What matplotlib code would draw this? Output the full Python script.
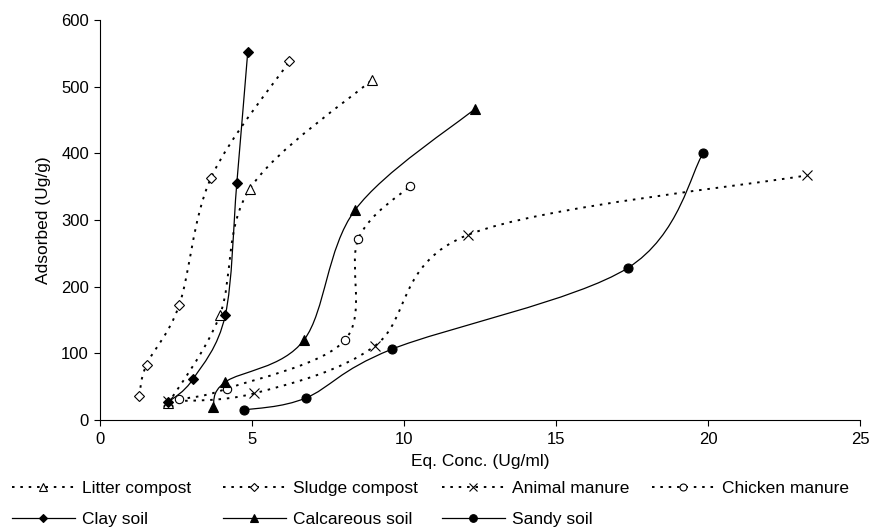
import matplotlib.pyplot as plt
from matplotlib.path import Path
from matplotlib.patches import PathPatch
from matplotlib.lines import Line2D

plt.rcParams['font.family'] = ['Liberation Sans', 'DejaVu Sans']

# data (Eq. Conc. in ug/ml, Adsorbed in ug/g)
litter_x = [2.25, 3.94, 4.93, 8.94]
litter_y = [25, 157, 347, 510]
sludge_x = [1.29, 1.53, 2.61, 3.65, 6.23]
sludge_y = [36, 83, 173, 363, 538]
animal_x = [2.25, 5.08, 9.04, 12.12, 23.25]
animal_y = [28, 40, 111, 278, 367]
chicken_x = [2.61, 4.17, 8.06, 8.50, 10.20]
chicken_y = [31, 47, 120, 272, 351]
clay_x = [2.25, 3.07, 4.12, 4.50, 4.86]
clay_y = [27, 62, 157, 355, 552]
calc_x = [3.72, 4.12, 6.71, 8.39, 12.34]
calc_y = [20, 57, 120, 315, 467]
sandy_x = [4.75, 6.77, 9.59, 17.36, 19.84]
sandy_y = [15, 33, 106, 228, 400]

series = [
    ('Litter compost', litter_x, litter_y, 'dot', '^', 'white', 7),
    ('Sludge compost', sludge_x, sludge_y, 'dot', 'D', 'white', 5.5),
    ('Animal manure', animal_x, animal_y, 'dot', 'x', 'black', 7),
    ('Chicken manure', chicken_x, chicken_y, 'dot', 'o', 'white', 6),
    ('Clay soil', clay_x, clay_y, 'solid', 'D', 'black', 5.5),
    ('Calcareous soil', calc_x, calc_y, 'solid', '^', 'black', 7),
    ('Sandy soil', sandy_x, sandy_y, 'solid', 'o', 'black', 6.5),
]

dotted = (0, (1.3, 3))


def smooth_path(xs, ys):
    # excel-style smoothed line: catmull-rom segments as cubic beziers
    pts = list(zip(xs, ys))
    verts = [pts[0]]
    codes = [Path.MOVETO]
    n = len(pts)
    for i in range(n - 1):
        p0 = pts[i - 1] if i > 0 else pts[i]
        p1 = pts[i]
        p2 = pts[i + 1]
        p3 = pts[i + 2] if i + 2 < n else pts[i + 1]
        c1 = (p1[0] + (p2[0] - p0[0]) / 6, p1[1] + (p2[1] - p0[1]) / 6)
        c2 = (p2[0] - (p3[0] - p1[0]) / 6, p2[1] - (p3[1] - p1[1]) / 6)
        verts += [c1, c2, p2]
        codes += [Path.CURVE4] * 3
    return Path(verts, codes)


fig = plt.figure(figsize=(8.75, 5.32), dpi=100)
ax = fig.add_axes([100 / 875, 112 / 532, 760 / 875, 400 / 532])

handles = {}
for name, xs, ys, style, marker, face, ms in series:
    ls = dotted if style == 'dot' else '-'
    lw = 1.4 if style == 'dot' else 0.9
    patch = PathPatch(smooth_path(xs, ys), facecolor='none', edgecolor='black',
                      linewidth=lw, linestyle=ls)
    ax.add_patch(patch)
    ax.plot(xs, ys, linestyle='none', marker=marker, markersize=ms,
            markerfacecolor=face, markeredgecolor='black', markeredgewidth=0.8,
            color='black', zorder=3)
    handles[name] = Line2D([], [], color='black', linestyle=ls, linewidth=lw,
                           marker=marker, markersize=ms - 1, markerfacecolor=face,
                           markeredgecolor='black', markeredgewidth=0.8, label=name)

ax.set_xlim(0, 25)
ax.set_ylim(0, 600)
ax.set_xticks([0, 5, 10, 15, 20, 25])
ax.set_yticks([0, 100, 200, 300, 400, 500, 600])
ax.spines['top'].set_visible(False)
ax.spines['right'].set_visible(False)
ax.tick_params(direction='out', length=4, width=0.8, labelsize=12)
ax.tick_params(axis='x', pad=5)
ax.tick_params(axis='y', pad=4)
ax.set_xlabel('Eq. Conc. (Ug/ml)', fontsize=12.5)
ax.set_ylabel('Adsorbed (Ug/g)', fontsize=12.5)
ax.xaxis.set_label_coords(0.5, -0.085)
ax.yaxis.set_label_coords(-0.064, 0.5)

# legend laid out as in the original: four columns at fixed spots, two rows
columns = [
    (12, ['Litter compost', 'Clay soil']),
    (223, ['Sludge compost', 'Calcareous soil']),
    (442, ['Animal manure', 'Sandy soil']),
    (652, ['Chicken manure']),
]
for x_px, names in columns:
    fig.legend(handles=[handles[n] for n in names], loc='upper left',
               bbox_to_anchor=(x_px / 875, 1 - 481 / 532), frameon=False,
               fontsize=12.5, handlelength=3.6, handletextpad=0.45,
               borderaxespad=0, borderpad=0, labelspacing=0.9)

fig.savefig('out.png', dpi=100)
